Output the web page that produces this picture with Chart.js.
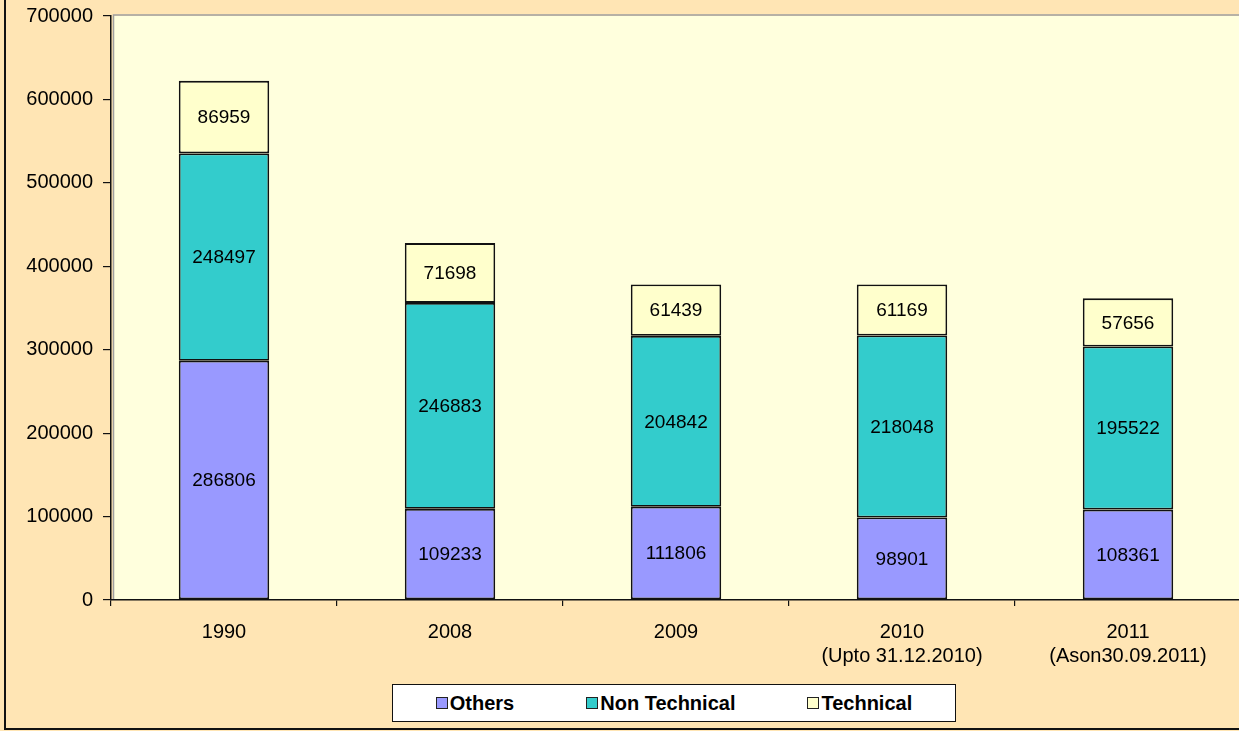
<!DOCTYPE html>
<html>
<head>
<meta charset="utf-8">
<script src="https://cdn.jsdelivr.net/npm/chart.js@4/dist/chart.umd.min.js"></script>
<style>
  html, body { margin: 0; padding: 0; background: #FFE5B4; }
  #wrap { position: relative; width: 1239px; height: 731px; overflow: hidden; background: #FFE5B4; }
  #frame { position: absolute; left: 4px; top: -10px; width: 1400px; height: 740px; border-left: 2px solid #111; border-bottom: 2px solid #111; box-sizing: border-box; }
  #cv { position: absolute; left: 0; top: 0; }
  #legend { position: absolute; left: 392px; top: 684px; width: 564px; height: 38px; box-sizing: border-box;
            background: #fff; border: 1.5px solid #111; display: flex; align-items: center; justify-content: center; gap: 72px;
            font-family: "Liberation Sans", Arial, sans-serif; font-weight: bold; font-size: 20px; color: #000; }
  .item { display: flex; align-items: center; white-space: nowrap; }
  .sw { width: 10px; height: 10px; border: 1px solid #222; margin-right: 2px; }
</style>
</head>
<body>
<div id="wrap">
  <div id="frame"></div>
  <canvas id="cv" width="1250" height="731"></canvas>
  <div id="legend"></div>
</div>
<script>
const categories = [["1990"], ["2008"], ["2009"], ["2010", "(Upto 31.12.2010)"], ["2011", "(Ason30.09.2011)"]];
const others = [286806, 109233, 111806, 98901, 108361];
const nonTechnical = [248497, 246883, 204842, 218048, 195522];
const technical = [86959, 71698, 61439, 61169, 57656];
const seriesNames = ["Others", "Non Technical", "Technical"];
const seriesColors = ["#9999FF", "#33CCCC", "#FFFFCC"];
const yTicks = [0, 100000, 200000, 300000, 400000, 500000, 600000, 700000];

const FONT = '"Liberation Sans", Arial, sans-serif';

const plotBg = {
  id: 'plotBg',
  beforeDraw(chart) {
    const { ctx, chartArea: a } = chart;
    ctx.save();
    ctx.fillStyle = '#FFFFDD';
    ctx.fillRect(a.left + 2, a.top, a.right - a.left, a.bottom - a.top);
    ctx.strokeStyle = '#A0A0A0';
    ctx.lineWidth = 1.5;
    ctx.beginPath();
    ctx.moveTo(a.left + 2.5, a.bottom);
    ctx.lineTo(a.left + 2.5, a.top - 1);
    ctx.lineTo(a.right + 5, a.top - 1);
    ctx.stroke();
    ctx.restore();
  }
};

const valueLabels = {
  id: 'valueLabels',
  afterDatasetsDraw(chart) {
    const { ctx } = chart;
    ctx.save();
    ctx.font = '19px ' + FONT;
    ctx.fillStyle = '#000';
    ctx.textAlign = 'center';
    ctx.textBaseline = 'middle';
    chart.data.datasets.forEach((ds, di) => {
      const meta = chart.getDatasetMeta(di);
      meta.data.forEach((el, i) => {
        const y = (el.y + el.base) / 2;
        ctx.fillText(String(ds.data[i]), el.x, y + 1);
      });
    });
    ctx.restore();
  }
};

const data = {
  labels: categories,
  datasets: [others, nonTechnical, technical].map((vals, i) => ({
    label: seriesNames[i],
    data: vals,
    backgroundColor: seriesColors[i],
    borderColor: '#111',
    borderWidth: 1.8,
    borderSkipped: false,
    barPercentage: 0.4,
    categoryPercentage: 1.0
  }))
};

new Chart(document.getElementById('cv'), {
  type: 'bar',
  data,
  plugins: [plotBg, valueLabels],
  options: {
    responsive: false,
    animation: false,
    layout: { padding: { top: 16, right: 9, left: 0, bottom: 0 } },
    plugins: { legend: { display: false }, tooltip: { enabled: false } },
    scales: {
      x: {
        stacked: true,
        offset: true,
        grid: { offset: true, drawOnChartArea: false, drawTicks: true, tickLength: 6, color: '#111', lineWidth: 1.2 },
        border: { display: true, color: '#111', width: 1.5 },
        ticks: { color: '#000', font: { family: FONT, size: 20, lineHeight: 1.2 }, padding: 14, maxRotation: 0, autoSkip: false },
        afterFit(scale) { scale.height = 131; scale.paddingLeft = 0; scale.paddingRight = 0; }
      },
      y: {
        stacked: true,
        min: 0,
        max: 700000,
        afterBuildTicks(scale) { scale.ticks = yTicks.map(v => ({ value: v })); },
        grid: { drawOnChartArea: false, drawTicks: true, tickLength: 8, color: '#111', lineWidth: 1.2 },
        border: { display: true, color: '#111', width: 1.5 },
        ticks: { color: '#000', font: { family: FONT, size: 20 }, padding: 10, callback: v => String(v) },
        afterFit(scale) { scale.width = 111; scale.paddingTop = 0; scale.paddingBottom = 0; }
      }
    }
  }
});

const legend = document.getElementById('legend');
seriesNames.forEach((name, i) => {
  const it = document.createElement('div');
  it.className = 'item';
  const sw = document.createElement('span');
  sw.className = 'sw';
  sw.style.background = seriesColors[i];
  const tx = document.createElement('span');
  tx.textContent = name;
  it.appendChild(sw);
  it.appendChild(tx);
  legend.appendChild(it);
});
</script>
</body>
</html>
